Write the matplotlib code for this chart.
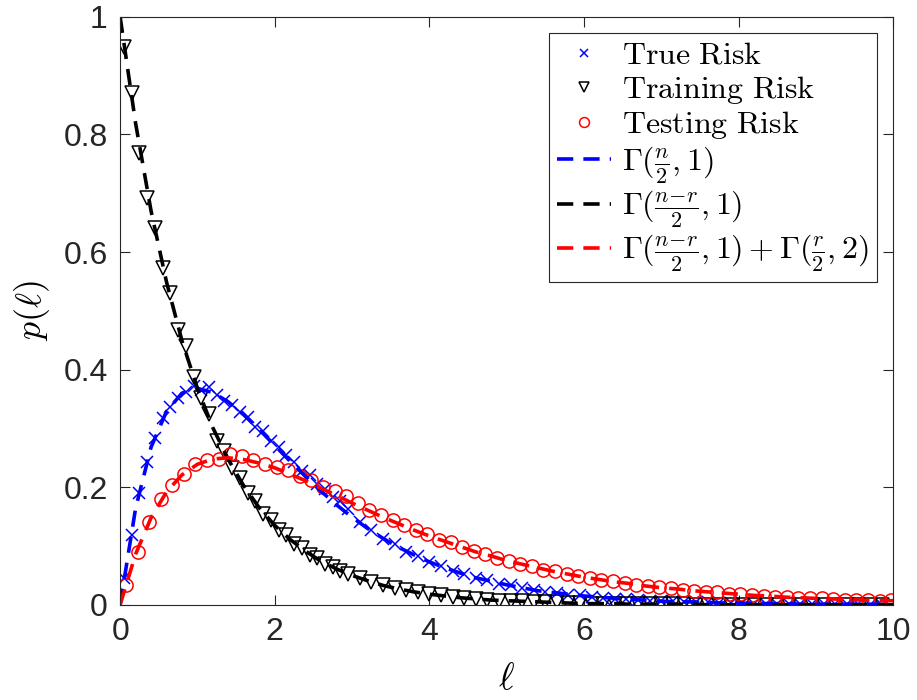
import numpy as np
import matplotlib
matplotlib.use("Agg")
import matplotlib.pyplot as plt

plt.rcParams['mathtext.fontset'] = 'cm'
plt.rcParams['font.family'] = ['Liberation Sans', 'DejaVu Sans']

# ---- data ----
x_line = np.linspace(0, 10, 51)
gamma_n2 = [0.000, 0.164, 0.268, 0.329, 0.360, 0.368, 0.361, 0.345, 0.323, 0.298,
            0.271, 0.244, 0.218, 0.193, 0.170, 0.149, 0.130, 0.113, 0.098, 0.085,
            0.073, 0.063, 0.054, 0.046, 0.040, 0.034, 0.029, 0.024, 0.021, 0.018,
            0.015, 0.013, 0.011, 0.009, 0.008, 0.006, 0.005, 0.005, 0.004, 0.003,
            0.003, 0.002, 0.002, 0.002, 0.001, 0.001, 0.001, 0.001, 0.001, 0.001, 0.000]
gamma_nr2 = [1.000, 0.819, 0.670, 0.549, 0.449, 0.368, 0.301, 0.247, 0.202, 0.165,
             0.135, 0.111, 0.091, 0.074, 0.061, 0.050, 0.041, 0.033, 0.027, 0.022,
             0.018, 0.015, 0.012, 0.010, 0.008, 0.007, 0.006, 0.005, 0.004, 0.003,
             0.002, 0.002, 0.002, 0.001, 0.001, 0.001, 0.001, 0.001, 0.000, 0.000,
             0.000, 0.000, 0.000, 0.000, 0.000, 0.000, 0.000, 0.000, 0.000, 0.000, 0.000]
gamma_sum = [0.000, 0.086, 0.148, 0.192, 0.221, 0.239, 0.248, 0.250, 0.247, 0.241,
             0.233, 0.222, 0.211, 0.198, 0.186, 0.173, 0.161, 0.149, 0.138, 0.127,
             0.117, 0.108, 0.099, 0.090, 0.083, 0.075, 0.069, 0.063, 0.057, 0.052,
             0.047, 0.043, 0.039, 0.036, 0.032, 0.029, 0.027, 0.024, 0.022, 0.020,
             0.018, 0.016, 0.015, 0.013, 0.012, 0.011, 0.010, 0.009, 0.008, 0.007, 0.007]

x_bk = np.r_[np.arange(30) * 0.1 + 0.05, np.arange(46) * 0.15 + 3.1]
true_risk = [0.045, 0.118, 0.190, 0.243, 0.283, 0.318, 0.337, 0.352, 0.362, 0.372,
             0.366, 0.370, 0.356, 0.346, 0.340, 0.328, 0.319, 0.303, 0.295, 0.278,
             0.268, 0.254, 0.243, 0.228, 0.220, 0.205, 0.197, 0.183, 0.176, 0.163,
             0.140, 0.127, 0.112, 0.103, 0.090, 0.083, 0.072, 0.066, 0.058, 0.053,
             0.045, 0.042, 0.036, 0.033, 0.028, 0.026, 0.022, 0.020, 0.017, 0.016,
             0.013, 0.012, 0.010, 0.010, 0.008, 0.007, 0.006, 0.006, 0.005, 0.004,
             0.004, 0.003, 0.003, 0.003, 0.002, 0.002, 0.002, 0.001, 0.001, 0.001,
             0.001, 0.001, 0.001, 0.001, 0.000, 0.000]
train_risk = [0.948, 0.870, 0.768, 0.692, 0.640, 0.572, 0.530, 0.468, 0.440, 0.388,
              0.352, 0.325, 0.278, 0.262, 0.232, 0.215, 0.190, 0.176, 0.155, 0.144,
              0.127, 0.118, 0.104, 0.096, 0.085, 0.079, 0.070, 0.065, 0.057, 0.053,
              0.045, 0.039, 0.033, 0.029, 0.025, 0.021, 0.018, 0.016, 0.014, 0.012,
              0.010, 0.009, 0.007, 0.006, 0.006, 0.005, 0.004, 0.004, 0.003, 0.003,
              0.002, 0.002, 0.002, 0.001, 0.001, 0.001, 0.001, 0.001, 0.001, 0.000,
              0.000, 0.000, 0.000, 0.000, 0.000, 0.000, 0.000, 0.000, 0.000, 0.000,
              0.000, 0.000, 0.000, 0.000, 0.000, 0.000]
x_red = np.arange(67) * 0.15 + 0.075
test_risk = [0.034, 0.090, 0.140, 0.180, 0.204, 0.222, 0.240, 0.246, 0.248, 0.256,
             0.253, 0.246, 0.240, 0.234, 0.229, 0.219, 0.213, 0.201, 0.193, 0.185,
             0.173, 0.162, 0.152, 0.145, 0.135, 0.127, 0.120, 0.110, 0.106, 0.098,
             0.091, 0.087, 0.080, 0.075, 0.070, 0.066, 0.060, 0.057, 0.052, 0.049,
             0.046, 0.042, 0.040, 0.037, 0.034, 0.032, 0.030, 0.028, 0.026, 0.024,
             0.022, 0.021, 0.019, 0.018, 0.017, 0.015, 0.014, 0.013, 0.012, 0.012,
             0.011, 0.010, 0.009, 0.009, 0.008, 0.007, 0.008]

xticks = [0, 2, 4, 6, 8, 10]
yticks = [0, 0.2, 0.4, 0.6, 0.8, 1]
ytick_labels = ['0', '0.2', '0.4', '0.6', '0.8', '1']

# ---- figure ----
fig = plt.figure(figsize=(9.17, 7.0), dpi=100)
ax = fig.add_axes([0.131, 0.136, 0.843, 0.840])

ax.plot(x_bk, true_risk, linestyle='none', marker='x', ms=8, mew=1.1,
        color='#0000ff', label=r'$\mathrm{True\ Risk}$')
ax.plot(x_bk, train_risk, linestyle='none', marker='v', ms=9.5, mew=1.1,
        mfc='none', mec='black', label=r'$\mathrm{Training\ Risk}$')
ax.plot(x_red, test_risk, linestyle='none', marker='o', ms=9.5, mew=1.1,
        mfc='none', mec='#ff0000', label=r'$\mathrm{Testing\ Risk}$')

dash = (4.5, 2.8)
ax.plot(x_line, gamma_n2, color='#0000ff', lw=2.6, dashes=dash,
        label=r'$\Gamma(\frac{n}{2},1)$')
ax.plot(x_line, gamma_nr2, color='black', lw=2.6, dashes=dash,
        label=r'$\Gamma(\frac{n\!-\!r}{2},1)$')
ax.plot(x_line, gamma_sum, color='#ff0000', lw=2.6, dashes=dash,
        label=r'$\Gamma(\frac{n\!-\!r}{2},1)+\Gamma(\frac{r}{2},2)$')

ax.set_xlim(0, 10)
ax.set_ylim(0, 1)
ax.set_xticks(xticks)
ax.set_xticklabels([str(t) for t in xticks])
ax.set_yticks(yticks)
ax.set_yticklabels(ytick_labels)
ax.tick_params(direction='in', length=7, width=0.8, top=True, right=True,
               labelsize=23, colors='#262626', pad=9)
for s in ax.spines.values():
    s.set_linewidth(0.8)
    s.set_color('#262626')

ax.set_xlabel(r'$\ell$', fontsize=27, labelpad=10)
ax.set_ylabel(r'$p(\ell)$', fontsize=26, labelpad=8)

leg = ax.legend(loc='upper right', fontsize=23, frameon=True, fancybox=False,
                framealpha=1, edgecolor='#262626', handlelength=1.7,
                handletextpad=0.35, borderpad=0.25, labelspacing=0.1,
                borderaxespad=0.5, markerscale=0.75)
leg.get_frame().set_linewidth(0.8)

fig.savefig('out.png', dpi=100)
